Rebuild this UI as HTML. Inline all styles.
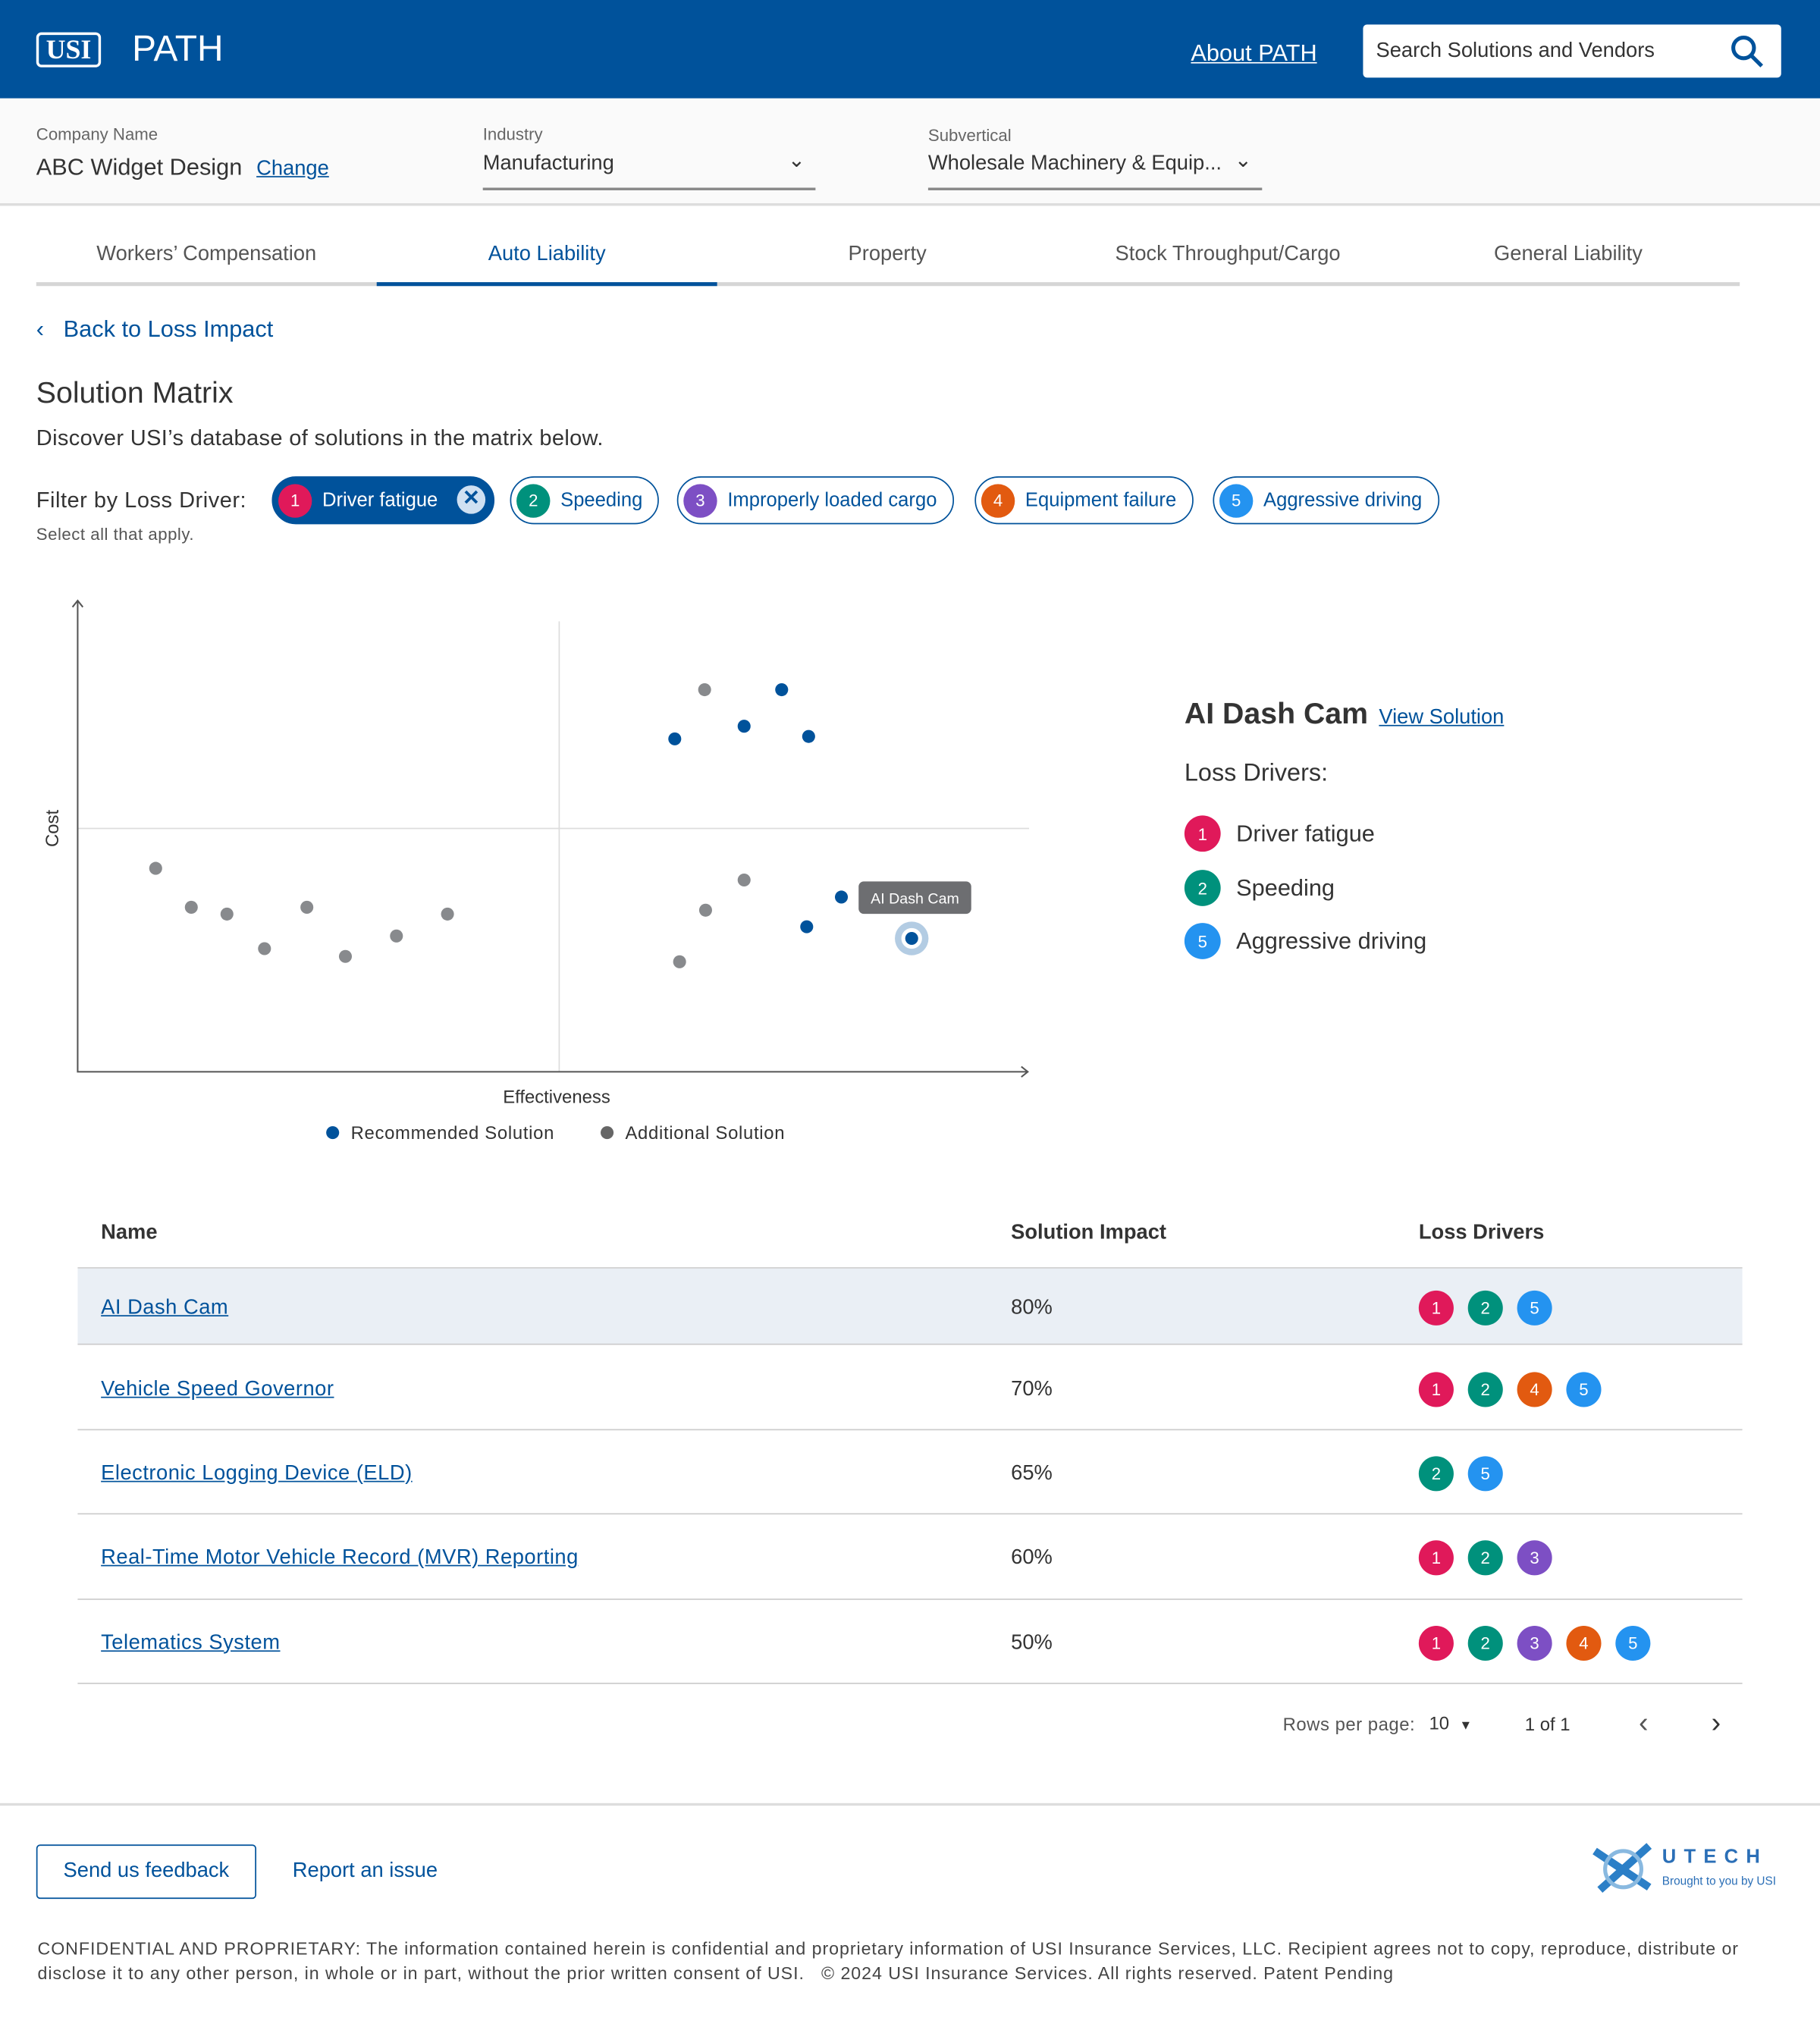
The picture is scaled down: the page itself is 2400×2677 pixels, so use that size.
<!DOCTYPE html>
<html><head><meta charset="utf-8"><style>
*{box-sizing:border-box;margin:0;padding:0}
html,body{width:2400px;height:2676px;overflow:hidden;background:#fff}
#root{position:absolute;left:0;top:0;width:1406px;height:1568px;transform:scale(1.70697);transform-origin:0 0;font-family:"Liberation Sans",sans-serif;color:#333}
.a{position:absolute;white-space:nowrap}
.hdr{left:0;top:0;width:1406px;height:76px;background:#00529b}
.lnk{color:#00529b;text-decoration:underline}
.chip{position:absolute;top:368px;height:37px;border:1.5px solid #00529b;border-radius:19px;color:#00529b;font-size:15px;display:flex;align-items:center;padding-left:4px;padding-right:12px}
.num{width:26px;height:26px;border-radius:50%;color:#fff;font-size:13px;display:inline-flex;align-items:center;justify-content:center;margin-right:8px}
.c1{background:#e0195a}.c2{background:#00917c}.c3{background:#7d4fc4}.c4{background:#e25a10}.c5{background:#2493f0}
.row{position:absolute;left:60px;width:1286px;border-bottom:1px solid #ccc}
.tab{position:absolute;top:188px;font-size:16px;color:#555;text-align:center;width:263px}
.dots{position:absolute;left:1096px;display:flex;gap:11px}
.dots span{width:27px;height:27px;border-radius:50%;color:#fff;font-size:13px;display:flex;align-items:center;justify-content:center}
</style></head><body><div id="root">
<div class="a hdr"></div>
<div class="a" style="left:28px;top:25px;width:50px;height:27px;border:2px solid #fff;border-radius:4px;color:#fff;font-family:'Liberation Serif',serif;font-weight:bold;font-size:21px;text-align:center;line-height:22px">USI</div>
<div class="a" style="left:102px;top:22px;color:#fff;font-size:28px">PATH</div>
<div class="a lnk" style="left:920px;top:31px;color:#fff;font-size:18px">About PATH</div>
<div class="a" style="left:1053px;top:19px;width:323px;height:41px;background:#fff;border-radius:3px;font-size:16px;color:#333;padding:12px 10px">Search Solutions and Vendors
<svg style="position:absolute;right:12px;top:7px" width="28" height="28" viewBox="0 0 28 28"><circle cx="11" cy="11" r="8" fill="none" stroke="#00529b" stroke-width="3"/><line x1="17" y1="17" x2="25" y2="25" stroke="#00529b" stroke-width="3"/></svg></div>

<div class="a" style="left:0;top:76px;width:1406px;height:83px;background:#fafafa;border-bottom:2px solid #ddd"></div>
<div class="a" style="left:28px;top:96px;font-size:13px;color:#666">Company Name</div>
<div class="a" style="left:28px;top:119px;font-size:18px">ABC Widget Design <span class="lnk" style="font-size:16px;margin-left:6px">Change</span></div>
<div class="a" style="left:373px;top:96px;font-size:13px;color:#666">Industry</div>
<div class="a" style="left:373px;top:116px;width:257px;height:31px;border-bottom:2px solid #888;font-size:16px;padding-top:2px">Manufacturing<span style="position:absolute;right:8px;top:-2px;font-size:16px">&#8964;</span></div>
<div class="a" style="left:717px;top:97px;font-size:13px;color:#666">Subvertical</div>
<div class="a" style="left:717px;top:116px;width:258px;height:31px;border-bottom:2px solid #888;font-size:16px;padding-top:2px">Wholesale Machinery &amp; Equip...<span style="position:absolute;right:8px;top:-2px">&#8964;</span></div>

<div class="a" style="left:28px;top:218px;width:1316px;height:3px;background:#d6d6d6"></div>
<div class="a" style="left:291px;top:218px;width:263px;height:3px;background:#00529b"></div>
<div class="tab" style="left:28px">Workers’ Compensation</div>
<div class="tab" style="left:291px;color:#00529b">Auto Liability</div>
<div class="tab" style="left:554px">Property</div>
<div class="tab" style="left:817px">Stock Throughput/Cargo</div>
<div class="tab" style="left:1080px">General Liability</div>

<div class="a" style="left:28px;top:244px;font-size:18px;color:#00529b">‹&nbsp;&nbsp;&nbsp;Back to Loss Impact</div>
<div class="a" style="left:28px;top:290px;font-size:23px;color:#333">Solution Matrix</div>
<div class="a" style="left:28px;top:329px;font-size:17px;letter-spacing:0.2px">Discover USI’s database of solutions in the matrix below.</div>
<div class="a" style="left:28px;top:377px;font-size:17px;letter-spacing:0.3px">Filter by Loss Driver:</div>
<div class="a" style="left:28px;top:405px;font-size:13px;color:#555;letter-spacing:0.3px">Select all that apply.</div>
<div class="chip" style="left:210px;width:172px;background:#00529b;color:#fff"><span class="num c1">1</span>Driver fatigue<span style="position:absolute;right:6px;top:6px;width:22px;height:22px;border-radius:50%;background:#cfe0f2;color:#00529b;font-size:16px;text-align:center;line-height:22px;font-weight:bold">✕</span></div>
<div class="chip" style="left:394px"><span class="num c2">2</span>Speeding</div>
<div class="chip" style="left:523px"><span class="num c3">3</span>Improperly loaded cargo</div>
<div class="chip" style="left:753px"><span class="num c4">4</span>Equipment failure</div>
<div class="chip" style="left:937px"><span class="num c5">5</span>Aggressive driving</div>

<svg class="a" id="chart" style="left:0;top:440px" width="820" height="460" viewBox="0 440 820 460"></svg>

<div class="a" style="left:915px;top:538px;font-size:23px;font-weight:bold;color:#333">AI Dash Cam <span class="lnk" style="font-size:16px;font-weight:normal;margin-left:2px">View Solution</span></div>
<div class="a" style="left:915px;top:587px;font-size:19px">Loss Drivers:</div>
<div class="a" style="left:915px;top:630px;font-size:18px;display:flex;align-items:center"><span class="num c1" style="width:28px;height:28px;margin-right:12px">1</span>Driver fatigue</div>
<div class="a" style="left:915px;top:672px;font-size:18px;display:flex;align-items:center"><span class="num c2" style="width:28px;height:28px;margin-right:12px">2</span>Speeding</div>
<div class="a" style="left:915px;top:713px;font-size:18px;display:flex;align-items:center"><span class="num c5" style="width:28px;height:28px;margin-right:12px">5</span>Aggressive driving</div>

<div class="row" style="top:930px;height:50px;border-bottom:1.5px solid #ccc"></div>
<div class="a" style="left:78px;top:944px;font-size:16px;font-weight:bold">Name</div>
<div class="a" style="left:781px;top:944px;font-size:16px;font-weight:bold">Solution Impact</div>
<div class="a" style="left:1096px;top:944px;font-size:16px;font-weight:bold">Loss Drivers</div>
<div id="rows"></div>

<div class="a" style="left:991px;top:1324px;font-size:14px;color:#555;letter-spacing:0.3px">Rows per page:</div>
<div class="a" style="left:1104px;top:1323px;font-size:14px">10 &nbsp;<span style="font-size:10px">▼</span></div>
<div class="a" style="left:1178px;top:1324px;font-size:14px">1 of 1</div>
<div class="a" style="left:1266px;top:1318px;font-size:22px;color:#555">‹</div>
<div class="a" style="left:1322px;top:1318px;font-size:22px;color:#333">›</div>

<div class="a" style="left:0;top:1393px;width:1406px;height:2px;background:#ddd"></div>
<div class="a" style="left:28px;top:1425px;width:170px;height:42px;border:1.5px solid #00529b;border-radius:3px;color:#00529b;font-size:16px;text-align:center;line-height:40px">Send us feedback</div>
<div class="a" style="left:226px;top:1437px;color:#00529b;font-size:16px">Report an issue</div>
<svg class="a" style="left:1228px;top:1420px" width="52" height="46"><path d="M4 10 L46 38 M46 6 L8 40" stroke="#2b7fc7" stroke-width="6"/><circle cx="26" cy="24" r="14" fill="none" stroke="#89b9e0" stroke-width="3"/></svg>
<div class="a" style="left:1284px;top:1426px;color:#2b6fb7;font-size:15px;letter-spacing:6px;font-weight:bold">UTECH</div>
<div class="a" style="left:1284px;top:1448px;color:#2b6fb7;font-size:9px">Brought to you by USI</div>
<div class="a" style="left:29px;top:1496px;font-size:13.6px;color:#444;white-space:normal;width:1372px;line-height:19px;letter-spacing:0.55px">CONFIDENTIAL AND PROPRIETARY: The information contained herein is confidential and proprietary information of USI Insurance Services, LLC. Recipient agrees not to copy, reproduce, distribute or disclose it to any other person, in whole or in part, without the prior written consent of USI. &nbsp;&nbsp;© 2024 USI Insurance Services. All rights reserved. Patent Pending</div>
</div>
<script>
// chart data (effectiveness 0-100, cost 0-100)
const recX=[62,69.2,73.1,75.9,79.3,75.7,86.6];
const recY=[68.4,71,78.5,68.9,35.9,29.8,27.4];
const addX=[8.1,11.8,15.5,19.4,23.8,27.8,33.1,38.4,65.1,65.2,69.2,62.5];
const addY=[41.8,33.8,32.4,25.3,33.8,23.7,27.9,32.4,78.5,33.2,39.4,22.6];
const selectedIndex=6;
const selectedLabel="AI Dash Cam";
// table data
const names=["AI Dash Cam","Vehicle Speed Governor","Electronic Logging Device (ELD)","Real-Time Motor Vehicle Record (MVR) Reporting","Telematics System"];
const impacts=["80%","70%","65%","60%","50%"];
const drivers=[[1,2,5],[1,2,4,5],[2,5],[1,2,3],[1,2,3,4,5]];

const NS="http://www.w3.org/2000/svg";
const svg=document.getElementById('chart');
const X=v=>60+v*7.44, Y=v=>828-v*3.76;
function mk(t,a,p){const e=document.createElementNS(NS,t);for(const k in a)e.setAttribute(k,a[k]);(p||svg).appendChild(e);return e;}
let e;
e=mk('line',{x1:X(50),y1:480,x2:X(50),y2:828,stroke:'#ddd'});


e=mk('line',{x1:60,y1:Y(50),x2:795,y2:Y(50),stroke:'#ddd'});


e=mk('path',{d:'M60 465 L60 828 L794 828 M56 469 L60 464 L64 469 M789 824 L794 828 L789 832',stroke:'#555',fill:'none','stroke-width':1.2});


e=mk('text',{x:430,y:852,'font-size':14,fill:'#333','text-anchor':'middle'});e.textContent='Effectiveness';


e=mk('text',{x:45,y:640,'font-size':14,fill:'#333','text-anchor':'middle',transform:'rotate(-90 45 640)'});e.textContent='Cost';


addX.forEach((v,i)=>{const c=mk('circle',{cx:X(v),cy:Y(addY[i]),r:5,fill:'#888a8d'});

});
recX.forEach((v,i)=>{const cx=X(v),cy=Y(recY[i]);
if(i===selectedIndex){const h=mk('circle',{cx,cy,r:13,fill:'#b3cce3'});


mk('circle',{cx,cy,r:8,fill:'#fff'});
const tb=mk('rect',{x:cx-41,y:cy-44,width:87,height:25,rx:4,fill:'#6d6e71'});


const tt=mk('text',{x:cx+2.5,y:cy-27,'font-size':11.5,fill:'#fff','text-anchor':'middle'});tt.textContent=selectedLabel;

}
const c=mk('circle',{cx,cy,r:5,fill:'#00529b'});

});
e=mk('circle',{cx:257,cy:875,r:5,fill:'#00529b'});


e=mk('text',{x:271,y:880,'font-size':14,fill:'#333','letter-spacing':0.4});e.textContent='Recommended Solution';


e=mk('circle',{cx:469,cy:875,r:5,fill:'#666'});


e=mk('text',{x:483,y:880,'font-size':14,fill:'#333','letter-spacing':0.4});e.textContent='Additional Solution';



const rows=document.getElementById('rows');
const tops=[980,1040,1105,1170,1236],hs=[59,65,65,66,65];
names.forEach((n,i)=>{
const r=document.createElement('div');r.className='row';r.style.top=tops[i]+'px';r.style.height=hs[i]+'px';
if(i===0)r.style.background='#eaeff5';


rows.appendChild(r);
const cy=tops[i]+hs[i]/2;
const a=document.createElement('div');a.className='a lnk';a.style.cssText=`left:78px;top:${cy-8}px;font-size:16px;letter-spacing:0.3px`;a.textContent=n;


rows.appendChild(a);
const p=document.createElement('div');p.className='a';p.style.cssText=`left:781px;top:${cy-8}px;font-size:16px`;p.textContent=impacts[i];


rows.appendChild(p);
const d=document.createElement('div');d.className='dots';d.style.top=(cy-13)+'px';


drivers[i].forEach(k=>{const s=document.createElement('span');s.className='c'+k;s.textContent=k;


d.appendChild(s);});
rows.appendChild(d);
});
</script>
</body></html>
